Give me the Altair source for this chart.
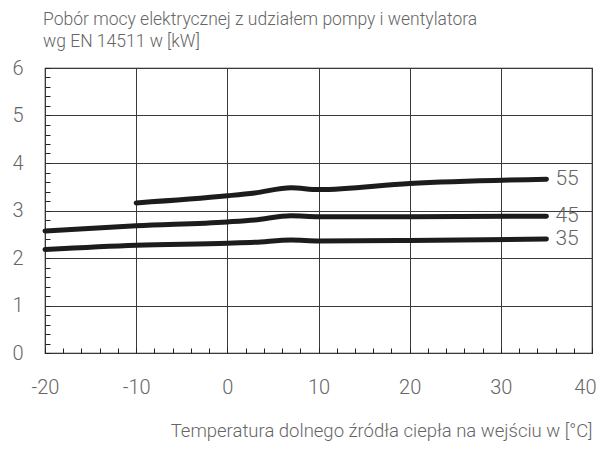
import altair as alt
import pandas as pd

temps = [-20, -10, 0, 3, 7, 10, 20, 35]
s55 = [None, 3.16, 3.31, 3.37, 3.48, 3.44, 3.57, 3.66]
s45 = [2.57, 2.68, 2.76, 2.80, 2.89, 2.87, 2.87, 2.88]
s35 = [2.18, 2.27, 2.31, 2.33, 2.38, 2.36, 2.37, 2.40]
series = {"55": s55, "45": s45, "35": s35}

rows = []
for name, vals in series.items():
    for t, v in zip(temps, vals):
        if v is not None:
            rows.append({"t": t, "p": v, "s": name})
df = pd.DataFrame(rows)
ends = df[df["t"] == 35].copy()

x_major = [-20, -10, 0, 10, 20, 30, 40]
x_minor = list(range(-20, 41, 2))
y_major = [0, 1, 2, 3, 4, 5, 6]
y_minor = [round(i * 0.2, 1) for i in range(0, 31)]

FONT = "Roboto"
GRAY = "#666666"

xs = alt.Scale(domain=[-20, 40], nice=False)
ys = alt.Scale(domain=[0, 6], nice=False)

base = alt.Chart(df)

lines = base.mark_line(
    color="#1c1c1c", strokeWidth=5, strokeCap="round", interpolate="monotone"
).encode(
    x=alt.X("t:Q", scale=xs, axis=alt.Axis(
        orient="bottom", values=x_major, labelFlush=False,
        labelAlign=alt.expr("datum.value == 40 ? 'right' : 'center'"),
        labelOffset=alt.expr("datum.value == 40 ? 4 : 0"),
        labelExpr="datum.value < 0 ? '-' + abs(datum.value) : '' + datum.value",
        title="Temperatura dolnego źródła ciepła na wejściu w [°C]",
        grid=True, gridColor="#3a3a3a", gridWidth=1, domain=False, ticks=False,
        labelFontSize=20, labelColor=GRAY, labelFont=FONT, labelFontWeight=300,
        labelPadding=24, titleFontSize=18.5, titleColor=GRAY, titleFont=FONT,
        titleFontWeight=300, titleAnchor="end", titlePadding=24, titleX=547)),
    y=alt.Y("p:Q", scale=ys, axis=alt.Axis(
        orient="left", values=y_major, title=None, grid=True,
        gridColor="#3a3a3a", gridWidth=1,
        domain=False, ticks=False, labelFontSize=20, labelColor=GRAY,
        labelFont=FONT, labelFontWeight=300, labelPadding=22)),
    detail="s:N",
)

minor = base.mark_point(opacity=0).encode(
    x=alt.X("t:Q", scale=xs, axis=alt.Axis(
        orient="bottom", values=x_minor, offset=-5, tickSize=5, tickColor="#222",
        tickWidth=1, labels=False, domain=False, grid=False, title=None)),
    y=alt.Y("p:Q", scale=ys, axis=alt.Axis(
        orient="left", values=y_minor, offset=-5, tickSize=5, tickColor="#222",
        tickWidth=1, labels=False, domain=False, grid=False, title=None)),
)

labels = alt.Chart(ends).mark_text(
    align="left", baseline="middle", dx=9, fontSize=21, font=FONT,
    fontWeight=300, color=GRAY
).encode(
    x=alt.X("t:Q", scale=xs, axis=None),
    y=alt.Y("p:Q", scale=ys, axis=None),
    text="s:N",
)

chart = alt.layer(lines, minor, labels).resolve_axis(
    x="independent", y="independent"
).properties(
    width=547, height=285,
    autosize=alt.AutoSizeParams(type="none"),
    padding={"left": 37, "top": 60, "right": 4, "bottom": 88},
    title=alt.TitleParams(
        text=["Pobór mocy elektrycznej z udziałem pompy i wentylatora",
              "wg EN 14511 w [kW]"],
        anchor="start", frame="group", fontSize=17.5, font=FONT,
        fontWeight=300, color=GRAY, offset=8, dx=-2, lineHeight=22),
).configure_view(stroke="#222", strokeWidth=1.2)

chart.save("out.html", embed_options={"renderer": "svg", "actions": False})
